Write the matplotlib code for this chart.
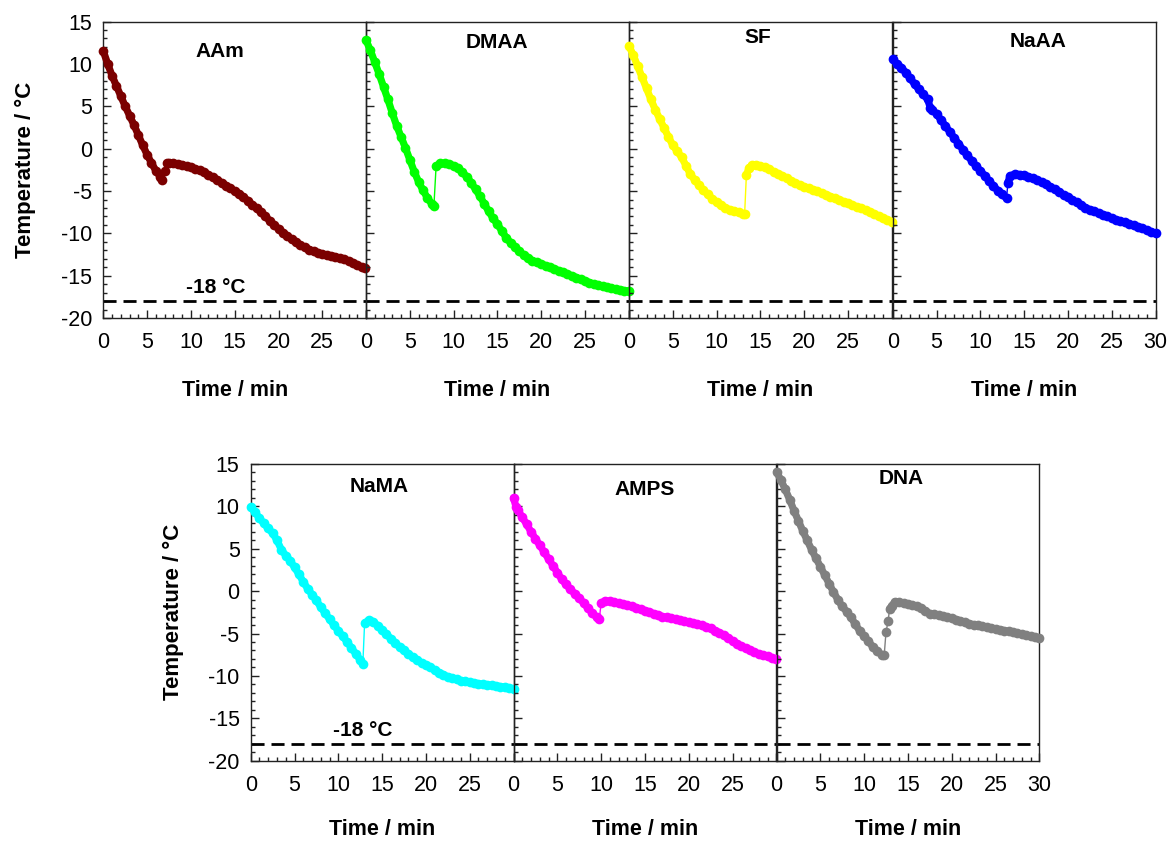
import numpy as np
import matplotlib
matplotlib.use("Agg")
import matplotlib.pyplot as plt
from matplotlib.ticker import MultipleLocator

plt.rcParams['font.family'] = ['Liberation Sans', 'DejaVu Sans']
plt.rcParams['axes.unicode_minus'] = False

# (time / min, temperature / °C)
aam = [(0, 11.5), (0.5, 10.0), (1, 8.6), (1.5, 7.4), (2, 6.2), (2.5, 5.0), (3, 3.9), (3.5, 2.8),
       (4, 1.6), (4.5, 0.4), (5, -0.7), (5.5, -1.7), (6, -2.6), (6.5, -3.3), (6.75, -3.7),
       (7.0, -2.6), (7.25, -1.7), (7.5, -1.65), (8, -1.7), (8.5, -1.8), (9, -1.9), (9.5, -2.05),
       (10, -2.2), (10.5, -2.4), (11, -2.55), (11.5, -2.8), (12, -3.1), (12.5, -3.4), (13, -3.7),
       (13.5, -4.0), (14, -4.35), (14.5, -4.7), (15, -5.0), (15.5, -5.3), (16, -5.7), (16.5, -6.15),
       (17, -6.6), (17.5, -7.05), (18, -7.5), (18.5, -8.0), (19, -8.5), (19.5, -9.0), (20, -9.45),
       (20.5, -9.9), (21, -10.3), (21.5, -10.7), (22, -11.05), (22.5, -11.4), (23, -11.65),
       (23.5, -11.9), (24, -12.1), (24.5, -12.3), (25, -12.45), (25.5, -12.6), (26, -12.65),
       (26.5, -12.75), (27, -12.9), (27.5, -13.05), (28, -13.25), (28.5, -13.5), (29, -13.75),
       (29.5, -13.95), (29.9, -14.1)]

dmaa = [(0, 12.8), (0.5, 11.6), (1, 10.2), (1.5, 8.8), (2, 7.3), (2.5, 5.8), (3, 4.2), (3.5, 2.7),
        (4, 1.4), (4.5, 0.1), (5, -1.3), (5.5, -2.7), (6, -3.9), (6.5, -4.9), (7, -5.8), (7.5, -6.5),
        (7.75, -6.8), (8.0, -2.1), (8.5, -1.7), (9, -1.75), (9.5, -1.85), (10, -2.0), (10.5, -2.3),
        (11, -2.8), (11.5, -3.3), (12, -4.0), (12.5, -4.8), (13, -5.6), (13.5, -6.5), (14, -7.4),
        (14.5, -8.2), (15, -8.9), (15.5, -9.7), (16, -10.5), (16.5, -11.1), (17, -11.6), (17.5, -12.1),
        (18, -12.55), (18.5, -12.9), (19, -13.2), (19.5, -13.4), (20, -13.6), (20.5, -13.8),
        (21, -14.0), (21.5, -14.2), (22, -14.4), (22.5, -14.6), (23, -14.8), (23.5, -15.0),
        (24, -15.2), (24.5, -15.4), (25, -15.6), (25.5, -15.8), (26, -15.95), (26.5, -16.1),
        (27, -16.2), (27.5, -16.3), (28, -16.45), (28.5, -16.55), (29, -16.65), (29.5, -16.75),
        (30, -16.85)]

sf = [(0, 12.1), (0.5, 11.0), (1, 9.7), (1.5, 8.4), (2, 7.1), (2.5, 5.8), (3, 4.6), (3.5, 3.5),
      (4, 2.45), (4.5, 1.4), (5, 0.4), (5.5, -0.3), (6, -1.0), (6.5, -2.0), (7, -3.0), (7.5, -3.7),
      (8, -4.3), (8.5, -4.9), (9, -5.4), (9.5, -5.9), (10, -6.3), (10.5, -6.7), (11, -7.0),
      (11.5, -7.2), (12, -7.35), (12.5, -7.5), (13, -7.65), (13.2, -7.7), (13.4, -3.1), (13.7, -2.3),
      (14, -1.95), (14.5, -1.9), (15, -2.05), (15.5, -2.2), (16, -2.45), (16.5, -2.7), (17, -2.95),
      (17.5, -3.2), (18, -3.5), (18.5, -3.85), (19, -4.1), (19.5, -4.3), (20, -4.5), (20.5, -4.7),
      (21, -4.85), (21.5, -5.05), (22, -5.25), (22.5, -5.45), (23, -5.65), (23.5, -5.85),
      (24, -6.05), (24.5, -6.25), (25, -6.45), (25.5, -6.65), (26, -6.85), (26.5, -7.05),
      (27, -7.25), (27.5, -7.45), (28, -7.7), (28.5, -7.95), (29, -8.2), (29.5, -8.4), (30, -8.6)]

naaa = [(0, 10.55), (0.5, 10.0), (1, 9.55), (1.5, 8.95), (2, 8.3), (2.5, 7.6), (3, 7.0), (3.5, 6.4),
        (4, 5.8), (4.3, 4.8), (4.5, 4.6), (5, 4.1), (5.5, 3.4), (6, 2.7), (6.5, 2.0), (7, 1.3),
        (7.5, 0.6), (8, -0.1), (8.5, -0.8), (9, -1.4), (9.5, -2.05), (10, -2.6), (10.5, -3.2),
        (11, -3.8), (11.5, -4.4), (12, -4.95), (12.5, -5.4), (13, -5.85), (13.15, -4.0),
        (13.4, -3.2), (14, -3.0), (14.5, -3.05), (15, -3.15), (15.5, -3.3), (16, -3.5), (16.5, -3.7),
        (17, -3.95), (17.5, -4.2), (18, -4.5), (18.5, -4.8), (19, -5.1), (19.5, -5.45), (20, -5.75),
        (20.5, -6.05), (21, -6.35), (21.5, -6.65), (22, -6.95), (22.5, -7.2), (23, -7.4),
        (23.5, -7.6), (24, -7.8), (24.5, -8.0), (25, -8.2), (25.5, -8.4), (26, -8.55), (26.5, -8.7),
        (27, -8.9), (27.5, -9.05), (28, -9.25), (28.5, -9.4), (29, -9.6), (29.5, -9.8), (30, -10.0)]

nama = [(0, 9.9), (0.5, 9.3), (1, 8.6), (1.5, 8.0), (2, 7.4), (2.5, 6.85), (3, 6.0), (3.5, 4.9),
        (4, 4.2), (4.5, 3.6), (5, 2.8), (5.5, 2.0), (6, 1.1), (6.5, 0.3), (7, -0.4), (7.5, -1.1),
        (8, -1.9), (8.5, -2.6), (9, -3.3), (9.5, -4.0), (10, -4.7), (10.5, -5.3), (11, -6.0),
        (11.5, -6.7), (12, -7.4), (12.5, -8.1), (12.8, -8.6), (13.0, -3.8), (13.5, -3.4),
        (14, -3.6), (14.5, -4.1), (15, -4.6), (15.5, -5.1), (16, -5.6), (16.5, -6.1), (17, -6.6),
        (17.5, -7.0), (18, -7.4), (18.5, -7.8), (19, -8.1), (19.5, -8.45), (20, -8.7), (20.5, -9.0),
        (21, -9.3), (21.5, -9.6), (22, -9.85), (22.5, -10.1), (23, -10.25), (23.5, -10.4),
        (24, -10.55), (24.5, -10.65), (25, -10.75), (25.5, -10.85), (26, -10.9), (26.5, -11.0),
        (27, -11.05), (27.5, -11.1), (28, -11.2), (28.5, -11.25), (29, -11.3), (29.5, -11.4),
        (30, -11.5)]

amps = [(0, 11.0), (0.3, 9.9), (0.5, 9.6), (1, 8.7), (1.5, 7.9), (2, 7.0), (2.5, 6.2), (3, 5.4),
        (3.5, 4.6), (4, 3.8), (4.5, 3.0), (5, 2.2), (5.5, 1.4), (6, 0.8), (6.5, 0.2), (7, -0.3),
        (7.5, -0.8), (8, -1.4), (8.5, -2.0), (9, -2.6), (9.5, -3.1), (9.8, -3.3), (10.0, -1.4),
        (10.5, -1.15), (11, -1.2), (11.5, -1.3), (12, -1.4), (12.5, -1.55), (13, -1.65), (13.5, -1.8),
        (14, -1.95), (14.5, -2.1), (15, -2.3), (15.5, -2.45), (16, -2.65), (16.5, -2.8), (17, -3.0),
        (17.5, -3.1), (18, -3.2), (18.5, -3.3), (19, -3.45), (19.5, -3.55), (20, -3.65), (20.5, -3.8),
        (21, -3.9), (21.5, -4.05), (22, -4.2), (22.5, -4.4), (23, -4.65), (23.5, -4.9), (24, -5.2),
        (24.5, -5.5), (25, -5.85), (25.5, -6.2), (26, -6.5), (26.5, -6.75), (27, -7.0), (27.5, -7.2),
        (28, -7.4), (28.5, -7.55), (29, -7.7), (29.5, -7.9), (30, -8.05)]

dna = [(0, 14.1), (0.5, 13.1), (1, 12.0), (1.5, 10.8), (2, 9.5), (2.5, 8.3), (3, 7.1), (3.5, 6.0),
       (4, 4.9), (4.5, 3.9), (5, 2.9), (5.5, 1.9), (6, 0.9), (6.5, -0.1), (7, -1.0), (7.5, -1.8),
       (8, -2.4), (8.5, -3.1), (9, -3.9), (9.5, -4.7), (10, -5.3), (10.5, -5.9), (11, -6.6),
       (11.5, -7.1), (12, -7.5), (12.3, -7.5), (12.5, -4.8), (12.75, -3.5), (12.9, -2.1),
       (13.2, -1.7), (13.5, -1.25), (14, -1.3), (14.5, -1.4), (15, -1.5), (15.5, -1.65), (16, -1.8),
       (16.5, -2.0), (17, -2.3), (17.5, -2.65), (18, -2.75), (18.5, -2.85), (19, -2.95),
       (19.5, -3.05), (20, -3.2), (20.5, -3.35), (21, -3.5), (21.5, -3.65), (22, -3.85),
       (22.5, -3.95), (23, -4.05), (23.5, -4.15), (24, -4.25), (24.5, -4.35), (25, -4.45),
       (25.5, -4.55), (26, -4.65), (26.5, -4.75), (27, -4.85), (27.5, -4.95), (28, -5.05),
       (28.5, -5.15), (29, -5.3), (29.5, -5.4), (30, -5.55)]

freezer_T = -18
x_ticks = [0, 5, 10, 15, 20, 25, 30]

W, H = 1172, 843
fig = plt.figure(figsize=(W / 100, H / 100), dpi=100)

# name, data, colour, left px, top px, first in row, last in row, title position (data)
panels = [
    ('AAm', aam, '#7b0000', 103.3, 21.5, True, False, (13.3, 11.5)),
    ('DMAA', dmaa, '#00ff00', 366.0, 21.5, False, False, (15.0, 12.5)),
    ('SF', sf, '#ffff00', 629.0, 21.5, False, False, (14.7, 13.15)),
    ('NaAA', naaa, '#0000ff', 892.7, 21.5, False, True, (16.6, 12.65)),
    ('NaMA', nama, '#00ffff', 250.7, 464.0, True, False, (14.7, 12.4)),
    ('AMPS', amps, '#ff00ff', 513.5, 464.0, False, False, (15.0, 12.0)),
    ('DNA', dna, '#808080', 776.5, 464.0, False, True, (14.2, 13.3)),
]
pw, ph = 262.8, 296.7

for name, data, col, left, top, first, last, tpos in panels:
    ax = fig.add_axes([left / W, 1 - (top + ph) / H, pw / W, ph / H])
    ax.set_facecolor('none')
    ax.set_xlim(0, 30)
    ax.set_ylim(-20, 15)
    ax.set_xticks(x_ticks)
    ax.set_xticklabels([str(v) if (v < 30 or last) else '' for v in x_ticks])
    ax.xaxis.set_minor_locator(MultipleLocator(1))
    ax.yaxis.set_major_locator(MultipleLocator(5))
    ax.yaxis.set_minor_locator(MultipleLocator(1))
    ax.tick_params(which='both', direction='in', top=False, right=False, width=1, color='#222222')
    ax.tick_params(which='major', length=5.5, labelsize=15.5)
    ax.tick_params(which='minor', length=2.8)
    ax.tick_params(axis='x', pad=10)
    ax.tick_params(axis='y', pad=8, labelleft=first)
    for s in ax.spines.values():
        s.set_color('#222222')
        s.set_linewidth(1.0)

    ax.set_xlabel('Time / min', fontsize=15.5, fontweight='bold', va='center')
    ax.xaxis.set_label_coords(0.5, -0.245 if top < 100 else -0.232)
    if first:
        ax.set_ylabel('Temperature / °C', fontsize=16, fontweight='bold')
        ax.yaxis.set_label_coords(-0.255, 0.5)
        ax.text(12.8, -16.4, '-18 °C', fontsize=15, fontweight='bold', ha='center', va='center')

    t, T = np.array(data).T
    # thin connecting line through every sample
    ax.plot(t, T, '-', color=col, lw=1, zorder=3, clip_on=False)
    # thick band, broken across the freezing exotherm
    jump = np.where(np.diff(T) > 0.9)[0] + 1
    tb = np.insert(t, jump, np.nan)
    Tb = np.insert(T, jump, np.nan)
    ax.plot(tb, Tb, '-', color=col, lw=5.2, solid_capstyle='round', zorder=3, clip_on=False)
    ax.plot(t, T, 'o', color=col, ms=7, mew=0, zorder=4, clip_on=False)

    ax.axhline(freezer_T, color='black', lw=2, dashes=(4.7, 2.5), zorder=2)
    ax.text(tpos[0], tpos[1], name, fontsize=15, fontweight='bold', ha='center', va='center')

fig.savefig('out.png', dpi=100)
